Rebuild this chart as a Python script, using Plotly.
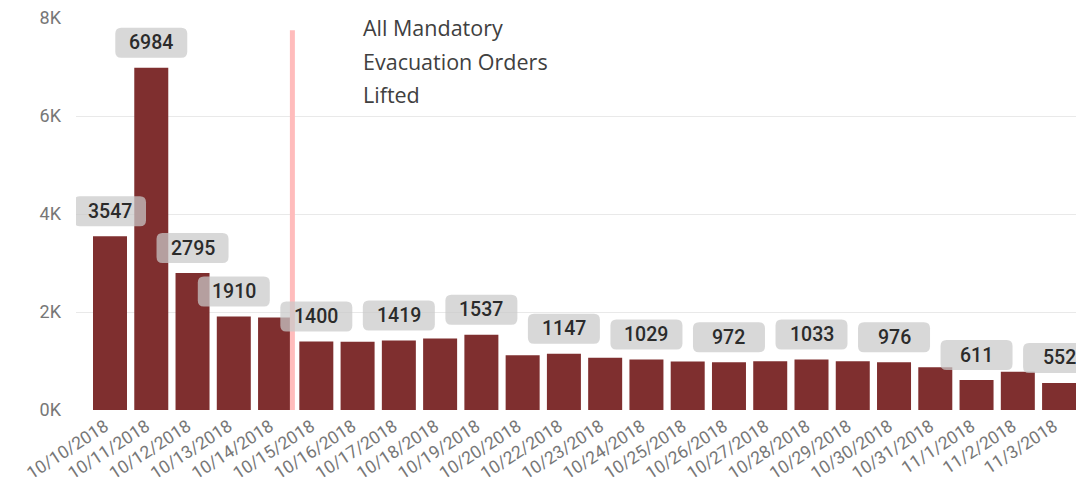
import plotly.graph_objects as go

dates = ["10/10/2018", "10/11/2018", "10/12/2018", "10/13/2018", "10/14/2018",
         "10/15/2018", "10/16/2018", "10/17/2018", "10/18/2018", "10/19/2018",
         "10/20/2018", "10/22/2018", "10/23/2018", "10/24/2018", "10/25/2018",
         "10/26/2018", "10/27/2018", "10/28/2018", "10/29/2018", "10/30/2018",
         "10/31/2018", "11/1/2018", "11/2/2018", "11/3/2018"]
counts = [3547, 6984, 2795, 1910, 1890,
          1400, 1395, 1419, 1460, 1537,
          1115, 1147, 1065, 1029, 990,
          972, 995, 1033, 995, 976,
          870, 611, 780, 552]
labeled_dates = ["10/10/2018", "10/11/2018", "10/12/2018", "10/13/2018", "10/15/2018",
                 "10/17/2018", "10/19/2018", "10/22/2018", "10/24/2018", "10/26/2018",
                 "10/28/2018", "10/30/2018", "11/1/2018", "11/3/2018"]
y_ticks = [0, 2000, 4000, 6000, 8000]
y_tick_labels = ["0K", "2K", "4K", "6K", "8K"]
event_lines = ["All Mandatory", "Evacuation Orders", "Lifted"]
event_pos = 4.42      # between 10/14 and 10/15 (category index units)
event_top = 7750

BAR = "#7f2f2f"

fig = go.Figure()
fig.add_trace(go.Bar(x=dates, y=counts, marker=dict(color=BAR, line=dict(width=0)),
                     hoverinfo="x+y"))

shapes = []
shapes.append(dict(type="line", xref="x", yref="y", x0=event_pos, x1=event_pos,
                   y0=0, y1=event_top, line=dict(color="#ffbcbc", width=5), layer="above"))

annotations = []
W, H, R, OFF = 72, 30, 6, 10
hw = W / 2
path = (f"M {-hw+R},{OFF} L {hw-R},{OFF} Q {hw},{OFF} {hw},{OFF+R} "
        f"L {hw},{OFF+H-R} Q {hw},{OFF+H} {hw-R},{OFF+H} "
        f"L {-hw+R},{OFF+H} Q {-hw},{OFF+H} {-hw},{OFF+H-R} "
        f"L {-hw},{OFF+R} Q {-hw},{OFF} {-hw+R},{OFF} Z")
for d in labeled_dates:
    i = dates.index(d)
    v = counts[i]
    shapes.append(dict(type="path", xref="x", yref="y", xsizemode="pixel", ysizemode="pixel",
                       xanchor=i, yanchor=v, path=path,
                       fillcolor="rgba(202,202,202,0.73)", line=dict(width=0), layer="above"))
    annotations.append(dict(x=i, y=v, xref="x", yref="y", text=str(v), showarrow=False,
                            yshift=OFF + H / 2, xanchor="center", yanchor="middle",
                            font=dict(family="Roboto", size=19.5, color="#2b2b2b", weight=500)))

plot_left, plot_w, plot_top, plot_h = 76, 1000, 18, 392
for k, line in enumerate(event_lines):
    px_x, px_y = 361, 28 + 33 * k
    annotations.append(dict(x=(px_x - plot_left) / plot_w, y=1 - (px_y - plot_top) / plot_h,
                            xref="paper", yref="paper", text=line,
                            showarrow=False, xanchor="left", yanchor="middle",
                            font=dict(family="Open Sans", size=21.5, color="#404040")))

fig.update_layout(
    width=1076, height=477,
    margin=dict(l=76, r=0, t=18, b=67, autoexpand=False),
    plot_bgcolor="white", paper_bgcolor="white",
    bargap=0.176, showlegend=False,
    shapes=shapes, annotations=annotations,
    xaxis=dict(type="category", range=[-0.824, 23.41], tickangle=-33, automargin=False,
               showgrid=False, zeroline=False, showline=False, ticks="",
               ticklabelstandoff=2, ticklabelshift=-5,
               tickfont=dict(family="Roboto", size=17.5, color="#777777")),
    yaxis=dict(range=[0, 8000], tickvals=y_ticks, ticktext=y_tick_labels, automargin=False,
               showgrid=True, gridcolor="#e9e9e9", gridwidth=1, zeroline=False,
               showline=False, ticks="", ticklabelstandoff=14,
               tickfont=dict(family="Roboto", size=18, color="#777777")),
)

fig.write_html("out.html", config={"displayModeBar": False},
               post_script="document.body.style.margin='0';document.body.style.overflow='hidden';")
